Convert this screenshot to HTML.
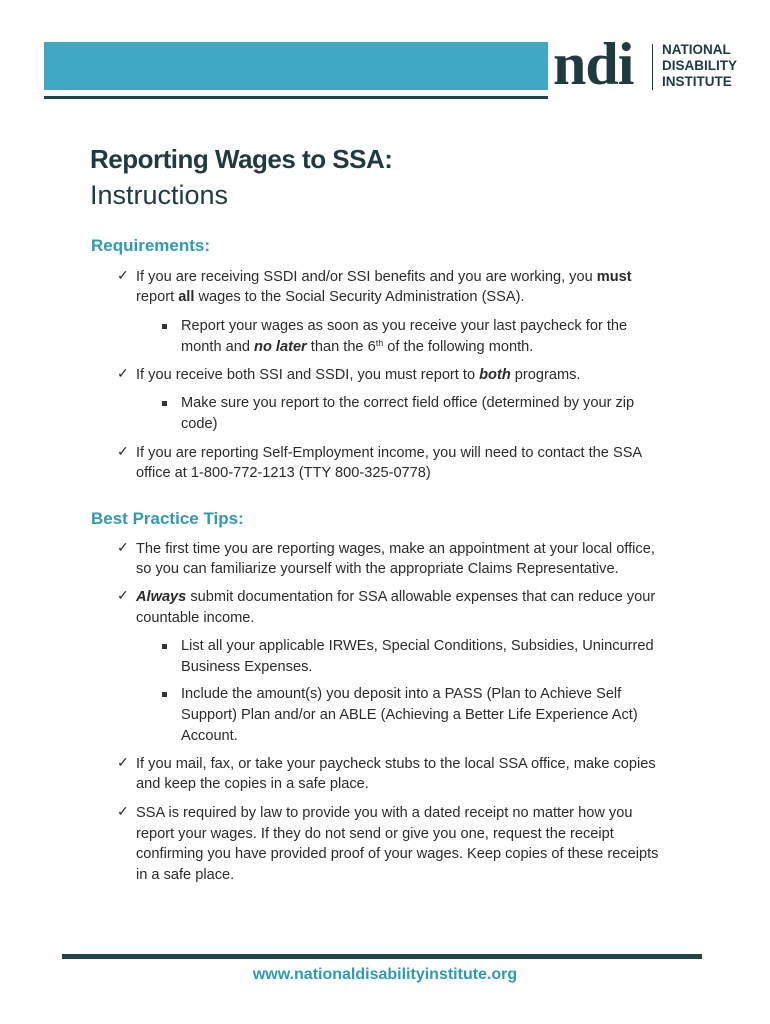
<!DOCTYPE html>
<html><head><meta charset="utf-8"><style>
body{margin:0;width:770px;height:1024px;background:#fff;position:relative;font-family:"Liberation Sans",Arial,sans-serif;color:#2b2b2b;overflow:hidden}
.a{position:absolute;white-space:nowrap}
.t{font-size:14.6px;line-height:20px}
.ck{position:absolute;left:117px;font-size:14px}
.sq{position:absolute;left:162px;width:5px;height:5px;background:#333}
.h{color:#2f9bb3;font-weight:bold;font-size:17px}
sup{font-size:9px;line-height:0;vertical-align:5px}
</style></head><body>
<div class="a" style="left:44px;top:42px;width:504px;height:48px;background:#40a8c2"></div>
<div class="a" style="left:44px;top:96px;width:504px;height:3px;background:#22434a"></div>
<div class="a" style="left:553px;top:34px;font-family:'Liberation Serif',serif;font-weight:bold;font-size:60px;color:#1f3b40;letter-spacing:-1px;line-height:60px">ndi</div>
<div class="a" style="left:652px;top:44px;width:1px;height:46px;background:#1f3b40"></div>
<div class="a" style="left:662px;top:42px;font-size:13.5px;line-height:16px;color:#1f3b40;font-weight:bold">NATIONAL<br>DISABILITY<br>INSTITUTE</div>
<div class="a" style="left:90px;top:144px;font-size:26px;font-weight:bold;color:#1f3b40;letter-spacing:-0.5px">Reporting Wages to SSA:</div>
<div class="a" style="left:90px;top:180px;font-size:27px;color:#1f3b40">Instructions</div>
<div class="a h" style="left:91px;top:236px">Requirements:</div>

<div class="ck" style="top:267px">✓</div>
<div class="a t" style="left:136px;top:267px">If you are receiving SSDI and/or SSI benefits and you are working, you <b>must</b><br>report <b>all</b> wages to the Social Security Administration (SSA).</div>
<div class="sq" style="top:324px"></div>
<div class="a t" style="left:181px;top:316px;line-height:21px">Report your wages as soon as you receive your last paycheck for the<br>month and <b><i>no later</i></b> than the 6<sup>th</sup> of the following month.</div>
<div class="ck" style="top:365px">✓</div>
<div class="a t" style="left:136px;top:365px">If you receive both SSI and SSDI, you must report to <b><i>both</i></b> programs.</div>
<div class="sq" style="top:401px"></div>
<div class="a t" style="left:181px;top:393px;line-height:21px">Make sure you report to the correct field office (determined by your zip<br>code)</div>
<div class="ck" style="top:443px">✓</div>
<div class="a t" style="left:136px;top:443px">If you are reporting Self-Employment income, you will need to contact the SSA<br>office at 1-800-772-1213 (TTY 800-325-0778)</div>

<div class="a h" style="left:91px;top:509px">Best Practice Tips:</div>
<div class="ck" style="top:539px">✓</div>
<div class="a t" style="left:136px;top:539px">The first time you are reporting wages, make an appointment at your local office,<br>so you can familiarize yourself with the appropriate Claims Representative.</div>
<div class="ck" style="top:587px">✓</div>
<div class="a t" style="left:136px;top:587px;line-height:21px"><b><i>Always</i></b> submit documentation for SSA allowable expenses that can reduce your<br>countable income.</div>
<div class="sq" style="top:644px"></div>
<div class="a t" style="left:181px;top:636px;line-height:21px">List all your applicable IRWEs, Special Conditions, Subsidies, Unincurred<br>Business Expenses.</div>
<div class="sq" style="top:692px"></div>
<div class="a t" style="left:181px;top:684px;line-height:21px">Include the amount(s) you deposit into a PASS (Plan to Achieve Self<br>Support) Plan and/or an ABLE (Achieving a Better Life Experience Act)<br>Account.</div>
<div class="ck" style="top:754px">✓</div>
<div class="a t" style="left:136px;top:754px">If you mail, fax, or take your paycheck stubs to the local SSA office, make copies<br>and keep the copies in a safe place.</div>
<div class="ck" style="top:803px">✓</div>
<div class="a t" style="left:136px;top:803px;line-height:20.7px">SSA is required by law to provide you with a dated receipt no matter how you<br>report your wages. If they do not send or give you one, request the receipt<br>confirming you have provided proof of your wages. Keep copies of these receipts<br>in a safe place.</div>

<div class="a" style="left:62px;top:954px;width:640px;height:5px;background:#22434a"></div>
<div class="a" style="left:0;width:770px;top:966px;text-align:center;font-size:16px;font-weight:bold;color:#2f9bb3">www.nationaldisabilityinstitute.org</div>
</body></html>
